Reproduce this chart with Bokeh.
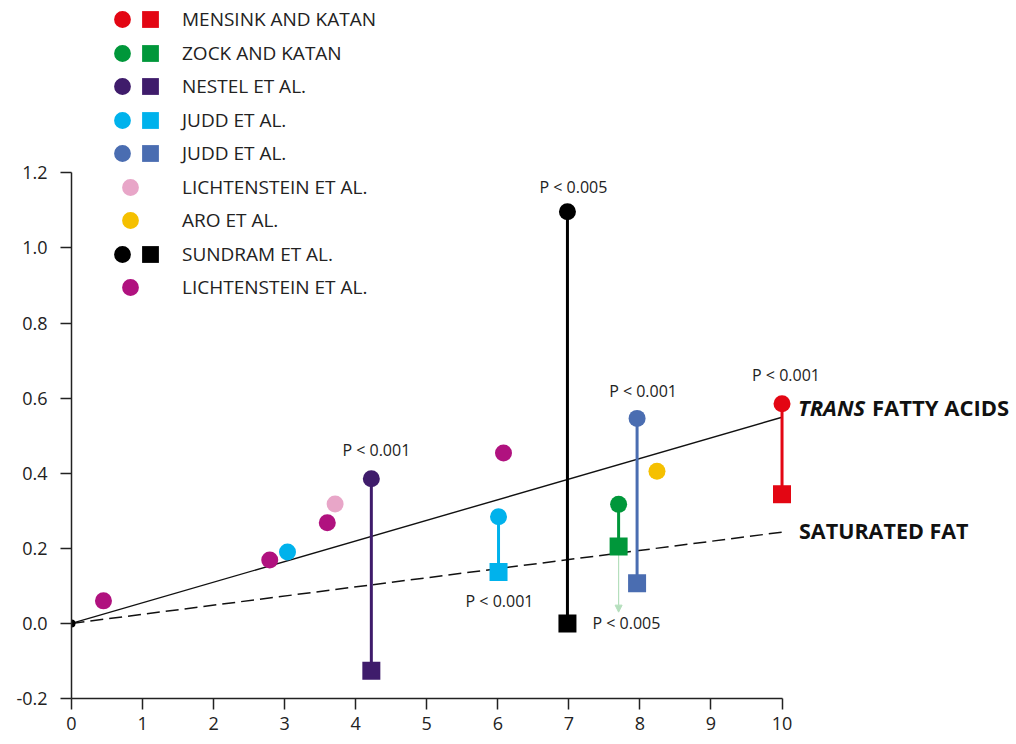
from bokeh.plotting import figure
from bokeh.models import Range1d, FixedTicker, PrintfTickFormatter, Legend, LegendItem, Arrow, NormalHead
from bokeh.core.properties import value
from bokeh.embed import file_html
from bokeh.resources import INLINE

# ---------------- data ----------------
studies = ["MENSINK AND KATAN", "ZOCK AND KATAN", "NESTEL ET AL.", "JUDD ET AL.", "JUDD ET AL.",
           "LICHTENSTEIN ET AL.", "ARO ET AL.", "SUNDRAM ET AL.", "LICHTENSTEIN ET AL."]
study_colors = ["#e30613", "#00973a", "#3f1c6b", "#00b2ec", "#4a6db1",
                "#e8a6c8", "#f5c000", "#000000", "#b0127f"]

# studies with both a trans (circle) and a saturated-fat (square) value
paired_study = [0, 1, 2, 3, 4, 7]
paired_x     = [10.0, 7.70, 4.22, 6.01, 7.96, 6.98]
paired_trans = [0.585, 0.317, 0.385, 0.284, 0.546, 1.096]
paired_sat   = [0.344, 0.205, -0.126, 0.137, 0.107, 0.000]

# trans-only observations (circles)
single_study = [3, 5, 6, 8, 8, 8, 8]
single_x     = [3.04, 3.71, 8.24, 0.45, 2.79, 3.60, 6.08]
single_y     = [0.190, 0.318, 0.405, 0.060, 0.169, 0.268, 0.454]

origin_x = [0.0]
origin_y = [0.0]

trend_x     = [0.0, 10.0]
trans_trend = [0.0, 0.549]
sat_trend   = [0.0, 0.243]

zock_arrow_end = 0.03

p_text   = ["P < 0.001", "P < 0.001", "P < 0.001", "P < 0.005", "P < 0.001", "P < 0.005"]
p_study  = [0, 4, 2, 7, 3, 7]
p_anchor = ["trans", "trans", "trans", "trans", "sat", "sat"]

x_ticks = [0, 1, 2, 3, 4, 5, 6, 7, 8, 9, 10]
y_ticks = [-0.2, 0.0, 0.2, 0.4, 0.6, 0.8, 1.0, 1.2]

# ---------------- figure ----------------
FONT = "Open Sans"
p = figure(width=1016, height=744, x_range=Range1d(0, 13.30), y_range=Range1d(-0.2, 1.6589),
           output_backend="svg", toolbar_location=None,
           min_border_left=71, min_border_right=0, min_border_top=0, min_border_bottom=46)
p.outline_line_color = None
p.grid.visible = False

p.xaxis.ticker = FixedTicker(ticks=x_ticks)
p.xaxis.bounds = (0, 10)
p.yaxis.ticker = FixedTicker(ticks=y_ticks)
p.yaxis.formatter = PrintfTickFormatter(format="%.1f")
p.yaxis.bounds = (-0.2, 1.2)
for ax in (p.xaxis[0], p.yaxis[0]):
    ax.major_tick_out = 11
    ax.major_tick_in = 0
    ax.minor_tick_out = 0
    ax.minor_tick_in = 0
    ax.axis_line_width = 1.5
    ax.axis_line_color = "#222222"
    ax.major_tick_line_width = 1.5
    ax.major_tick_line_color = "#222222"
    ax.major_label_text_font = FONT
    ax.major_label_text_font_size = "18px"
    ax.major_label_text_color = "#222222"
p.xaxis.major_label_standoff = 7
p.yaxis.major_label_standoff = 13

# trend lines
p.line(trend_x, trans_trend, line_color="#111111", line_width=1.4)
p.line(trend_x, sat_trend, line_color="#111111", line_width=1.5, line_dash="13 6")

# green arrow (Zock and Katan)
zi = paired_study.index(1)
arrow = Arrow(end=NormalHead(size=7, fill_color="#b5dfbd", line_color="#b5dfbd"),
              x_start=paired_x[zi], y_start=paired_sat[zi],
              x_end=paired_x[zi], y_end=zock_arrow_end,
              line_color="#b5dfbd", line_width=1.2, level="underlay")
p.add_layout(arrow)

circle_r = {}
square_r = {}
for i, s in enumerate(paired_study):
    c = study_colors[s]
    p.segment(x0=[paired_x[i]], y0=[paired_trans[i]], x1=[paired_x[i]], y1=[paired_sat[i]],
              line_color=c, line_width=3)
for i, s in enumerate(paired_study):
    c = study_colors[s]
    square_r[s] = p.scatter([paired_x[i]], [paired_sat[i]], marker="square", size=18,
                            fill_color=c, line_color=None)
    circle_r[s] = p.scatter([paired_x[i]], [paired_trans[i]], marker="circle", size=17,
                            fill_color=c, line_color=None)

single_r = {}
for s in sorted(set(single_study)):
    xs = [x for x, ss in zip(single_x, single_study) if ss == s]
    ys = [y for y, ss in zip(single_y, single_study) if ss == s]
    r = p.scatter(xs, ys, marker="circle", size=17, fill_color=study_colors[s], line_color=None)
    single_r[s] = r
    if s not in circle_r:
        circle_r[s] = r

p.scatter(origin_x, origin_y, marker="circle", size=8, fill_color="#000000", line_color=None)

# P-value annotations
offs = [(4, -29), (6, -27), (5, -29), (6, -25), (1, 29), (25, 0)]
for (t, s, a), (dx, dy) in zip(zip(p_text, p_study, p_anchor), offs):
    i = paired_study.index(s)
    yv = paired_trans[i] if a == "trans" else paired_sat[i]
    p.text(x=[paired_x[i]], y=[yv], text=[t], x_offset=dx, y_offset=dy,
           text_align="center" if dx < 20 else "left", text_baseline="middle",
           text_font=value(FONT), text_font_size="16px", text_color="#222222")

# line labels
p.text(x=[trend_x[1]], y=[trans_trend[1]], text=["TRANS"], x_offset=16, y_offset=-10,
       text_align="left", text_baseline="middle", text_font=value(FONT),
       text_font_style="bold italic", text_font_size="22px", text_color="#111111")
p.text(x=[trend_x[1]], y=[trans_trend[1]], text=["FATTY ACIDS"], x_offset=90, y_offset=-10,
       text_align="left", text_baseline="middle", text_font=value(FONT),
       text_font_style="bold", text_font_size="22px", text_color="#111111")
p.text(x=[trend_x[1]], y=[sat_trend[1]], text=["SATURATED FAT"], x_offset=17, y_offset=-2,
       text_align="left", text_baseline="middle", text_font=value(FONT),
       text_font_style="bold", text_font_size="21.5px", text_color="#111111")

# legends: three columns (circle, single circle, square + label), even/odd rows split
dummy = p.scatter(x=[], y=[], marker="circle", size=1, fill_alpha=0, line_alpha=0)
paired_set = set(paired_study)
cols = {"circ": [], "single": [], "sq": []}
for s, name in enumerate(studies):
    if s in paired_set:
        cols["circ"].append(LegendItem(label=" ", renderers=[circle_r[s]]))
        cols["single"].append(LegendItem(label=" ", renderers=[dummy]))
        cols["sq"].append(LegendItem(label=name, renderers=[square_r[s]]))
    else:
        cols["circ"].append(LegendItem(label=" ", renderers=[dummy]))
        cols["single"].append(LegendItem(label=" ", renderers=[single_r[s]]))
        cols["sq"].append(LegendItem(label=name, renderers=[dummy]))

col_x = {"circ": (30, 5), "single": (38, 5), "sq": (58, 11)}
row_y = {0: 390, 1: 423}   # even rows / odd rows
for key, items in cols.items():
    lx, standoff = col_x[key]
    for parity in (0, 1):
        leg = Legend(items=items[parity::2], location=(lx, row_y[parity]),
                     glyph_width=42, glyph_height=42, spacing=25, padding=0, margin=0,
                     label_standoff=standoff, label_height=20,
                     label_text_font=FONT, label_text_font_size="19px",
                     label_text_color="#222222",
                     background_fill_alpha=0, border_line_alpha=0)
        p.add_layout(leg)

open("out.html", "w").write(file_html(p, INLINE))
